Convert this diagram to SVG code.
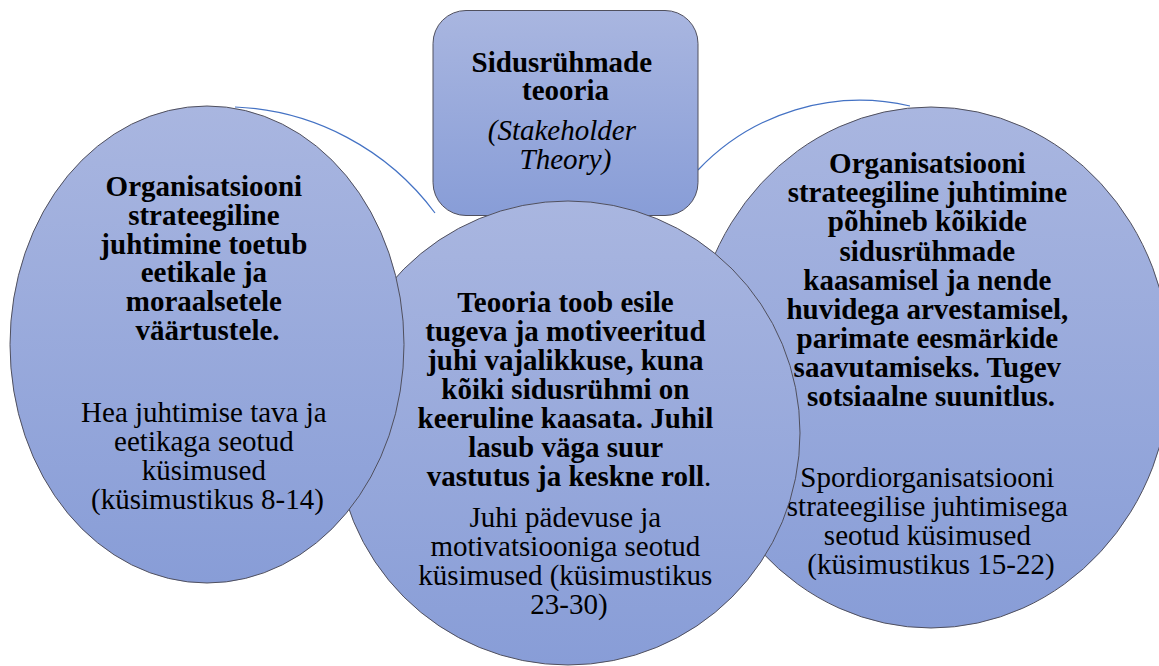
<svg xmlns="http://www.w3.org/2000/svg" width="1159" height="666" viewBox="0 0 1159 666">
  <defs>
    <linearGradient id="shapeFill" x1="0" y1="0" x2="0" y2="1">
      <stop offset="0" stop-color="#A9B6E0"/>
      <stop offset="1" stop-color="#889DD7"/>
    </linearGradient>
    <style>
      .shape { fill: url(#shapeFill); stroke: #50505E; stroke-width: 1; }
      .conn { fill: none; stroke: #4472C4; stroke-width: 1.2; }
      text { font-family: "Liberation Serif", "Times New Roman", serif; font-size: 29px; fill: #000; text-anchor: middle; }
      .b { font-weight: bold; }
      .i { font-style: italic; }
      .n { font-weight: normal; }
    </style>
  </defs>

  <!-- curved links between the outer circles and the theory box -->
  <g id="connectors">
    <path class="conn" d="M235,107 A263,263 0 0 1 435,213"/>
    <path class="conn" d="M698,170 A223,223 0 0 1 910,106"/>
  </g>

  <!-- right: strategic management -->
  <g id="node-strategy">
    <ellipse class="shape" cx="931" cy="367.5" rx="240" ry="260.5"/>
    <text class="b">
      <tspan x="931" y="173.3">Organisatsiooni</tspan>
      <tspan x="931" y="202.4">strateegiline juhtimine</tspan>
      <tspan x="931" y="231.4">põhineb kõikide</tspan>
      <tspan x="931" y="260.5">sidusrühmade</tspan>
      <tspan x="931" y="289.5">kaasamisel ja nende</tspan>
      <tspan x="931" y="318.6">huvidega arvestamisel,</tspan>
      <tspan x="931" y="347.6">parimate eesmärkide</tspan>
      <tspan x="931" y="376.7">saavutamiseks. Tugev</tspan>
      <tspan x="931" y="405.7">sotsiaalne suunitlus.</tspan>
    </text>
    <text>
      <tspan x="931" y="486.7">Spordiorganisatsiooni</tspan>
      <tspan x="931" y="515.7">strateegilise juhtimisega</tspan>
      <tspan x="931" y="544.7">seotud küsimused</tspan>
      <tspan x="931" y="573.7">(küsimustikus 15-22)</tspan>
    </text>
  </g>

  <!-- top: theory box -->
  <g id="node-theory">
    <rect class="shape" x="433" y="10.5" width="265" height="205" rx="33" ry="33"/>
    <text class="b">
      <tspan x="565.5" y="72">Sidusrühmade</tspan>
      <tspan x="565.5" y="100">teooria</tspan>
    </text>
    <text class="i">
      <tspan x="565.5" y="140">(Stakeholder</tspan>
      <tspan x="565.5" y="169">Theory)</tspan>
    </text>
  </g>

  <!-- centre: leadership -->
  <g id="node-leader">
    <circle class="shape" cx="568" cy="433" r="232"/>
    <text class="b">
      <tspan x="569" y="311.7">Teooria toob esile</tspan>
      <tspan x="569" y="340.7">tugeva ja motiveeritud</tspan>
      <tspan x="569" y="369.7">juhi vajalikkuse, kuna</tspan>
      <tspan x="569" y="398.7">kõiki sidusrühmi on</tspan>
      <tspan x="569" y="427.7">keeruline kaasata. Juhil</tspan>
      <tspan x="569" y="456.7">lasub väga suur</tspan>
      <tspan x="569" y="485.7">vastutus ja keskne roll<tspan class="n">.</tspan></tspan>
    </text>
    <text>
      <tspan x="569" y="526.7">Juhi pädevuse ja</tspan>
      <tspan x="569" y="555.7">motivatsiooniga seotud</tspan>
      <tspan x="569" y="584.7">küsimused (küsimustikus</tspan>
      <tspan x="569" y="613.7">23-30)</tspan>
    </text>
  </g>

  <!-- left: ethics -->
  <g id="node-ethics">
    <ellipse class="shape" cx="207" cy="344.5" rx="197" ry="238.5"/>
    <text class="b">
      <tspan x="207.5" y="196">Organisatsiooni</tspan>
      <tspan x="207.5" y="224.8">strateegiline</tspan>
      <tspan x="207.5" y="253.6">juhtimine toetub</tspan>
      <tspan x="207.5" y="282.4">eetikale ja</tspan>
      <tspan x="207.5" y="311.2">moraalsetele</tspan>
      <tspan x="207.5" y="340">väärtustele.</tspan>
    </text>
    <text>
      <tspan x="207.5" y="422">Hea juhtimise tava ja</tspan>
      <tspan x="207.5" y="451">eetikaga seotud</tspan>
      <tspan x="207.5" y="480">küsimused</tspan>
      <tspan x="207.5" y="509">(küsimustikus 8-14)</tspan>
    </text>
  </g>
</svg>
